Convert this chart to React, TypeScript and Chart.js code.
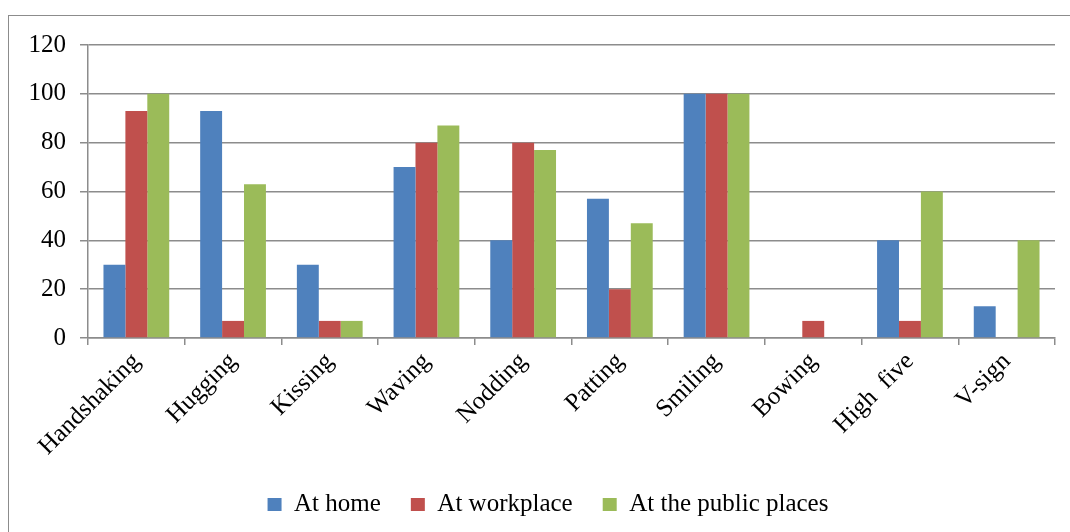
import React, { useEffect, useRef } from "react";
import { Chart, registerables } from "chart.js";

Chart.register(...registerables);

const categories = [
  "Handshaking",
  "Hugging",
  "Kissing",
  "Waving",
  "Nodding",
  "Patting",
  "Smiling",
  "Bowing",
  "High  five",
  "V-sign",
];
const atHome = [30, 93, 30, 70, 40, 57, 100, 0, 40, 13];
const atWorkplace = [93, 7, 7, 80, 80, 20, 100, 7, 7, 0];
const atPublicPlaces = [100, 63, 7, 87, 77, 47, 100, 0, 60, 40];
const seriesNames = ["At home", "At workplace", "At the public places"];
const seriesColors = ["#4F81BD", "#C0504D", "#9BBB59"];

const FONT = "'Liberation Serif', 'Times New Roman', serif";
const GRID = "#8c8c8c";

const legendShift = {
  id: "legendShift",
  afterLayout(chart: any) {
    const l = chart.legend;
    if (l) {
      l.left += 11;
      l.right += 11;
    }
  },
};

export default function App() {
  const ref = useRef<HTMLCanvasElement | null>(null);

  useEffect(() => {
    if (!ref.current) return;
    const values = [atHome, atWorkplace, atPublicPlaces];
    const chart = new Chart(ref.current, {
      type: "bar",
      data: {
        labels: categories,
        datasets: seriesNames.map((name, i) => ({
          label: name,
          data: values[i],
          backgroundColor: seriesColors[i],
          borderWidth: 0,
          categoryPercentage: 0.68,
          barPercentage: 1.0,
        })),
      },
      plugins: [legendShift],
      options: {
        animation: false,
        responsive: false,
        maintainAspectRatio: false,
        layout: { padding: { left: 10, right: 15, top: 24.5, bottom: 29 } },
        plugins: {
          tooltip: { enabled: false },
          legend: {
            position: "bottom",
            labels: {
              boxWidth: 14,
              boxHeight: 13,
              padding: 30,
              color: "#000",
              font: { family: FONT, size: 25 },
            },
          },
        },
        scales: {
          x: {
            grid: {
              display: true,
              drawOnChartArea: false,
              drawTicks: true,
              tickLength: 7,
              color: GRID,
              lineWidth: 1.5,
            },
            border: { display: true, color: GRID, width: 1.5 },
            ticks: {
              color: "#000",
              font: { family: FONT, size: 25 },
              minRotation: 45,
              maxRotation: 45,
              autoSkip: false,
              padding: 2,
            },
            afterFit: (scale: any) => {
              scale.height = 124;
            },
          },
          y: {
            min: 0,
            max: 120,
            ticks: {
              stepSize: 20,
              color: "#000",
              font: { family: FONT, size: 25 },
              padding: 14,
            },
            grid: {
              color: GRID,
              lineWidth: 1.5,
              tickLength: 8,
            },
            border: { display: true, color: GRID, width: 1.5 },
            afterFit: (scale: any) => {
              scale.width = 69;
            },
          },
        },
      },
    });
    return () => chart.destroy();
  }, []);

  return (
    <div
      style={{
        position: "fixed",
        left: 8,
        top: 15,
        width: 1062,
        height: 560,
        borderLeft: `1px solid ${GRID}`,
        borderTop: `1px solid ${GRID}`,
        background: "#fff",
      }}
    >
      <canvas ref={ref} width={1061} height={540} style={{ display: "block" }} />
    </div>
  );
}
